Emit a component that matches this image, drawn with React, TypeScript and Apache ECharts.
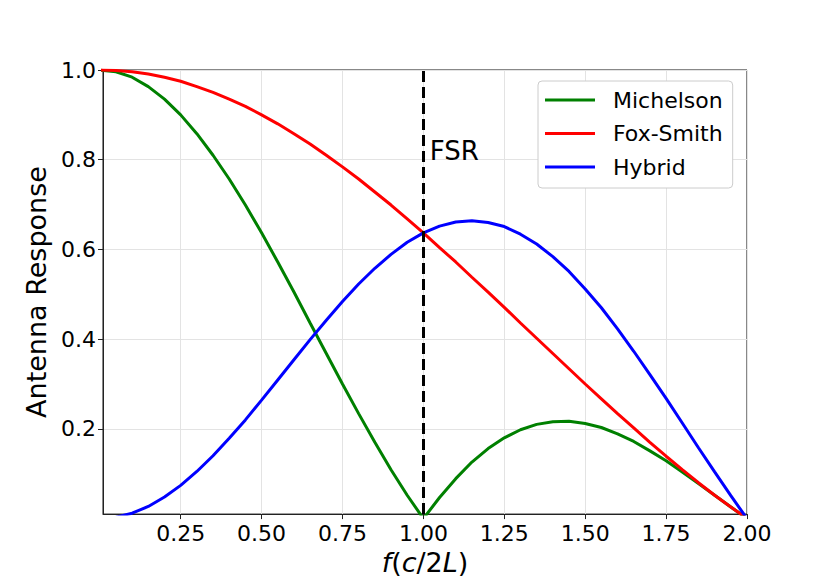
import React, { useEffect, useRef } from "react";
import * as echarts from "echarts";

// frequency f in units of c/2L
const freq = [
  0.0, 0.05, 0.1, 0.15, 0.2, 0.25, 0.3, 0.35, 0.4, 0.45,
  0.5, 0.55, 0.6, 0.65, 0.7, 0.75, 0.8, 0.85, 0.9, 0.95,
  1.0, 1.05, 1.1, 1.15, 1.2, 1.25, 1.3, 1.35, 1.4, 1.45,
  1.5, 1.55, 1.6, 1.65, 1.7, 1.75, 1.8, 1.85, 1.9, 1.95, 2.0,
];

const michelson = [
  1.0, 0.996, 0.984, 0.963, 0.935, 0.9, 0.858, 0.81, 0.757, 0.699,
  0.637, 0.572, 0.505, 0.436, 0.368, 0.3, 0.234, 0.17, 0.109, 0.052,
  0.0, 0.047, 0.089, 0.126, 0.156, 0.18, 0.198, 0.21, 0.216, 0.217,
  0.212, 0.203, 0.189, 0.172, 0.151, 0.129, 0.104, 0.078, 0.052, 0.026, 0.0,
];

const foxSmith = [
  1.0, 0.999, 0.996, 0.991, 0.984, 0.975, 0.963, 0.95, 0.935, 0.919,
  0.9, 0.88, 0.858, 0.835, 0.81, 0.784, 0.757, 0.728, 0.699, 0.668,
  0.637, 0.604, 0.572, 0.538, 0.505, 0.471, 0.436, 0.402, 0.368, 0.334,
  0.3, 0.267, 0.234, 0.202, 0.17, 0.139, 0.109, 0.08, 0.052, 0.026, 0.0,
];

const hybrid = [
  0.0, 0.003, 0.012, 0.027, 0.048, 0.074, 0.105, 0.14, 0.179, 0.22,
  0.264, 0.309, 0.354, 0.399, 0.442, 0.484, 0.523, 0.558, 0.589, 0.616,
  0.637, 0.652, 0.661, 0.664, 0.66, 0.651, 0.634, 0.612, 0.584, 0.551,
  0.512, 0.47, 0.423, 0.373, 0.321, 0.268, 0.213, 0.158, 0.104, 0.051, 0.0,
];

const xTicks = [0.25, 0.5, 0.75, 1.0, 1.25, 1.5, 1.75, 2.0];
const yTicks = [0.2, 0.4, 0.6, 0.8, 1.0];
const fsrPosition = [1.02, 0.8];
const fsrFreq = 1.0;

const FONT = "DejaVu Sans";

export default function App() {
  const ref = useRef<HTMLDivElement>(null);

  useEffect(() => {
    document.body.style.margin = "0";
    if (!ref.current) return;
    const chart = echarts.init(ref.current, undefined, { renderer: "svg" });

    const zip = (ys: number[]) => freq.map((x, i) => [x, ys[i]]);

    const option: any = {
      animation: false,
      backgroundColor: "#ffffff",
      textStyle: { fontFamily: FONT },
      grid: {
        left: 103,
        right: 83,
        top: 70,
        bottom: 64,
        show: true,
        borderColor: "#111",
        borderWidth: 1,
        backgroundColor: "transparent",
        containLabel: false,
      },
      legend: {
        left: 538,
        top: 81,
        orient: "vertical",
        data: ["Michelson", "Fox-Smith", "Hybrid"],
        icon: "rect",
        itemWidth: 50,
        itemHeight: 3,
        itemGap: 11.5,
        padding: [8, 10, 10, 7],
        backgroundColor: "#ffffff",
        borderColor: "#cccccc",
        borderWidth: 1,
        borderRadius: 4,
        textStyle: {
          fontFamily: FONT,
          fontSize: 22,
          lineHeight: 22,
          color: "#000",
          padding: [0, 0, 0, 13],
        },
      },
      xAxis: {
        type: "value",
        min: 0.01,
        max: 2.0,
        name: "{i|f}{n|(}{i|c}{n|/2}{i|L}{n|)}",
        nameLocation: "middle",
        nameGap: 32,
        nameTextStyle: {
          rich: {
            i: { fontFamily: FONT, fontSize: 27, fontStyle: "italic", color: "#000" },
            n: { fontFamily: FONT, fontSize: 27, color: "#000" },
          },
        },
        axisLine: { show: true, onZero: false, lineStyle: { color: "#222", width: 1 } },
        axisTick: {
          show: true,
          inside: false,
          length: 5,
          customValues: xTicks,
          lineStyle: { color: "#222", width: 1 },
        },
        axisLabel: {
          customValues: xTicks,
          margin: 8,
          fontFamily: FONT,
          fontSize: 22,
          color: "#000",
          formatter: (v: number) => v.toFixed(2),
        },
        splitLine: { show: true, lineStyle: { color: "#e3e3e3", width: 1 } },
      },
      yAxis: {
        type: "value",
        min: 0.01,
        max: 1.0,
        name: "Antenna Response",
        nameLocation: "middle",
        nameGap: 50,
        nameTextStyle: { fontFamily: FONT, fontSize: 27, color: "#000" },
        axisLine: { show: true, onZero: false, lineStyle: { color: "#222", width: 1 } },
        axisTick: {
          show: true,
          inside: false,
          length: 5,
          customValues: yTicks,
          lineStyle: { color: "#222", width: 1 },
        },
        axisLabel: {
          customValues: yTicks,
          margin: 7,
          fontFamily: FONT,
          fontSize: 22,
          color: "#000",
          formatter: (v: number) => v.toFixed(1),
        },
        splitLine: { show: true, lineStyle: { color: "#e3e3e3", width: 1 } },
      },
      series: [
        {
          name: "Michelson",
          type: "line",
          data: zip(michelson),
          showSymbol: false,
          symbol: "none",
          color: "#008000",
          lineStyle: { color: "#008000", width: 3 },
          clip: true,
        },
        {
          name: "Fox-Smith",
          type: "line",
          data: zip(foxSmith),
          showSymbol: false,
          symbol: "none",
          color: "#ff0000",
          lineStyle: { color: "#ff0000", width: 3 },
          clip: true,
        },
        {
          name: "Hybrid",
          type: "line",
          data: zip(hybrid),
          showSymbol: false,
          symbol: "none",
          color: "#0000ff",
          lineStyle: { color: "#0000ff", width: 3 },
          clip: true,
          markLine: {
            silent: true,
            symbol: "none",
            label: { show: false },
            lineStyle: { color: "#000", width: 3, type: [11, 5] },
            data: [{ xAxis: fsrFreq }],
          },
          markPoint: {
            silent: true,
            symbol: "circle",
            symbolSize: 1,
            itemStyle: { color: "rgba(0,0,0,0)" },
            data: [{ coord: fsrPosition, value: "FSR" }],
            label: {
              show: true,
              formatter: "FSR",
              position: "inside",
              align: "left",
              verticalAlign: "middle",
              offset: [0, -9],
              fontFamily: FONT,
              fontSize: 26,
              color: "#000",
            },
          },
        },
      ],
    };

    chart.setOption(option);
    return () => chart.dispose();
  }, []);

  return <div ref={ref} style={{ width: 830, height: 581 }} />;
}
